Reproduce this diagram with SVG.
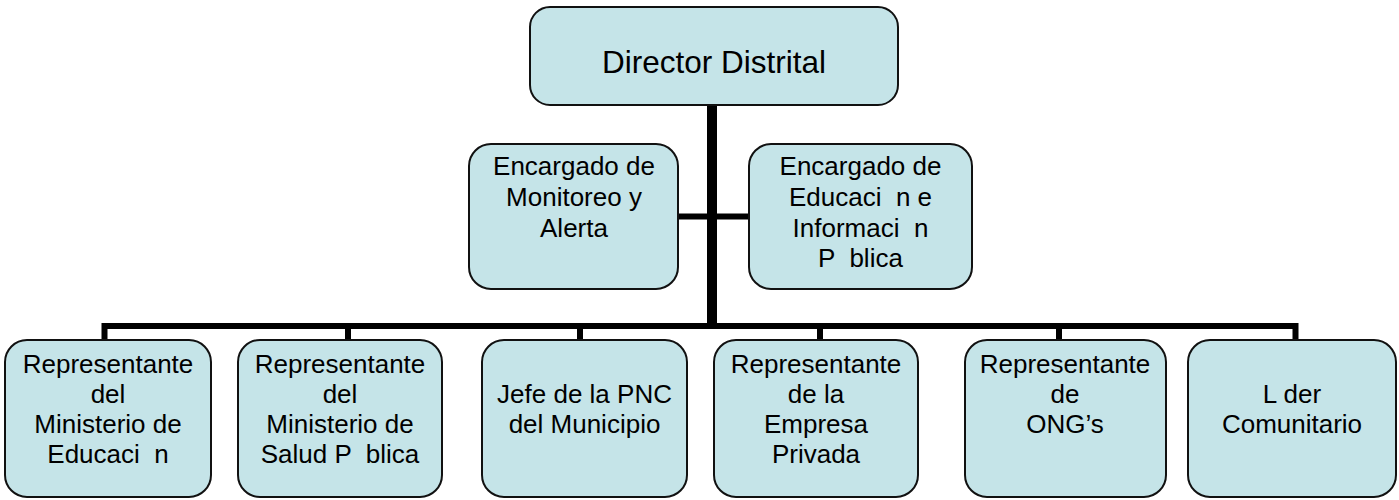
<svg xmlns="http://www.w3.org/2000/svg" width="1399" height="500" viewBox="0 0 1399 500">
<style>
.box{fill:#C5E4E8;stroke:#111;stroke-width:2}
.t{font-family:"Liberation Sans",Arial,sans-serif;font-size:26px;fill:#000;text-anchor:middle;white-space:pre}
.big{font-size:31.5px}
.c{fill:none;stroke:#000;stroke-linecap:square;stroke-linejoin:miter}
</style>
<rect width="1399" height="500" fill="#fff"/>
<g id="connectors">
<line class="c" x1="712" y1="105" x2="712" y2="324" stroke-width="10"/>
<line class="c" x1="680" y1="216.5" x2="748" y2="216.5" stroke-width="6"/>
<path class="c" stroke-width="6" d="M104.5 339 V326 H1295.5 V339"/>
<path class="c" stroke-width="6" d="M348 326 V339 M580 326 V339 M820 326 V339 M1059 326 V339"/>
</g>
<g id="director">
<rect class="box" x="530" y="7" width="368" height="98" rx="20"/>
<text class="t big" x="714" y="73">Director Distrital</text>
</g>
<g id="monitoreo">
<rect class="box" x="469" y="144" width="209" height="145" rx="22"/>
<text class="t" x="574" y="175">Encargado de</text>
<text class="t" x="574" y="206">Monitoreo y</text>
<text class="t" x="574" y="237">Alerta</text>
</g>
<g id="educacion">
<rect class="box" x="749" y="144" width="223" height="145" rx="22"/>
<text class="t" x="860.5" y="175">Encargado de</text>
<text class="t" x="860.5" y="206" xml:space="preserve">Educaci  n e</text>
<text class="t" x="860.5" y="237" xml:space="preserve">Informaci  n</text>
<text class="t" x="860.5" y="267" xml:space="preserve">P  blica</text>
</g>
<g id="rep-educacion">
<rect class="box" x="5" y="340" width="206" height="157" rx="22"/>
<text class="t" x="108" y="373">Representante</text>
<text class="t" x="108" y="403">del</text>
<text class="t" x="108" y="433">Ministerio de</text>
<text class="t" x="108" y="463" xml:space="preserve">Educaci  n</text>
</g>
<g id="rep-salud">
<rect class="box" x="238" y="340" width="204" height="157" rx="22"/>
<text class="t" x="340" y="373">Representante</text>
<text class="t" x="340" y="403">del</text>
<text class="t" x="340" y="433">Ministerio de</text>
<text class="t" x="340" y="463" xml:space="preserve">Salud P  blica</text>
</g>
<g id="jefe-pnc">
<rect class="box" x="482" y="340" width="205" height="157" rx="22"/>
<text class="t" x="584.5" y="403">Jefe de la PNC</text>
<text class="t" x="584.5" y="433">del Municipio</text>
</g>
<g id="rep-empresa">
<rect class="box" x="714" y="340" width="204" height="157" rx="22"/>
<text class="t" x="816" y="373">Representante</text>
<text class="t" x="816" y="403">de la</text>
<text class="t" x="816" y="433">Empresa</text>
<text class="t" x="816" y="463">Privada</text>
</g>
<g id="rep-ong">
<rect class="box" x="965" y="340" width="201" height="157" rx="22"/>
<text class="t" x="1065" y="373">Representante</text>
<text class="t" x="1065" y="403">de</text>
<text class="t" x="1065" y="433">ONG’s</text>
</g>
<g id="lider">
<rect class="box" x="1188" y="340" width="208" height="157" rx="22"/>
<text class="t" x="1292" y="403">L der</text>
<text class="t" x="1292" y="433">Comunitario</text>
</g>
</svg>
